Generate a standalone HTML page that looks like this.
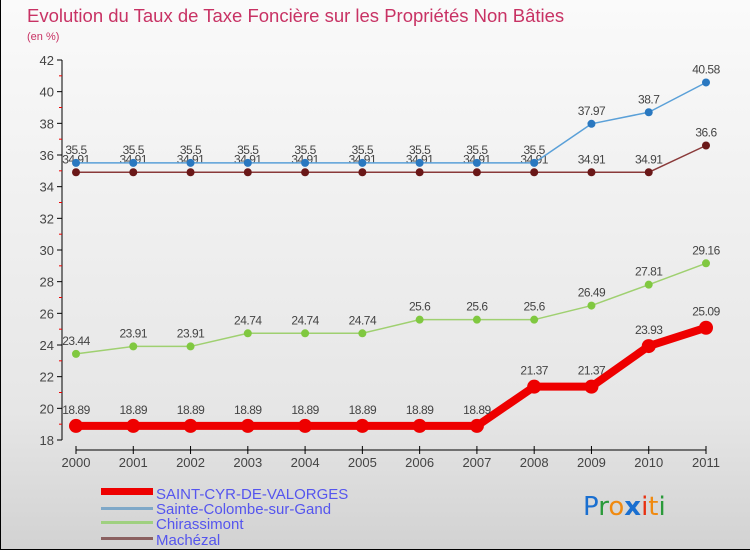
<!DOCTYPE html>
<html><head><meta charset="utf-8"><style>
html,body{margin:0;padding:0;}
body{width:750px;height:550px;overflow:hidden;font-family:"Liberation Sans",sans-serif;}
#wrap{position:relative;width:749px;height:549px;border-left:1px solid #000;border-bottom:1px solid #000;background:linear-gradient(#fafafa,#e6e6e6 75%,#d2d2d2);}
</style></head><body>
<div id="wrap">
<svg id="chart" width="750" height="550" xmlns="http://www.w3.org/2000/svg">
<text x="26" y="22" font-size="18.5" fill="#c83264">Evolution du Taux de Taxe Foncière sur les Propriétés Non Bâties</text>
<text x="26" y="40" font-size="11" fill="#c83264">(en %)</text>
<g id="axes"></g><g id="series"></g>
<g>
<rect x="100" y="488" width="52" height="7" fill="#ee0000"/>
<text x="155" y="499" font-size="15" fill="#5555ee">SAINT-CYR-DE-VALORGES</text>
<rect x="100" y="507" width="52" height="3" fill="#7fa8c8"/>
<text x="155" y="514" font-size="15" fill="#5555ee">Sainte-Colombe-sur-Gand</text>
<rect x="100" y="521" width="52" height="3" fill="#9fd080"/>
<text x="155" y="529" font-size="15" fill="#5555ee">Chirassimont</text>
<rect x="100" y="537" width="52" height="3" fill="#8a6060"/>
<text x="155" y="545" font-size="15" fill="#5555ee">Machézal</text>
</g>
<g font-size="26" font-family="'DejaVu Sans',sans-serif">
<text x="582" y="515"><tspan fill="#1a6fd0">P</tspan><tspan fill="#2a9a3a">r</tspan><tspan fill="#f08a10">o</tspan><tspan fill="#1a6fd0" font-weight="bold">x</tspan><tspan fill="#e83010">i</tspan><tspan fill="#f08a10">t</tspan><tspan fill="#2a9a3a">i</tspan></text>
</g>
</svg>
</div>
<script>
const years=[2000,2001,2002,2003,2004,2005,2006,2007,2008,2009,2010,2011];
const yTicks=[18,20,22,24,26,28,30,32,34,36,38,40,42];
const saintCyr=[18.89,18.89,18.89,18.89,18.89,18.89,18.89,18.89,21.37,21.37,23.93,25.09];
const sainteColombe=[35.5,35.5,35.5,35.5,35.5,35.5,35.5,35.5,35.5,37.97,38.7,40.58];
const chirassimont=[23.44,23.91,23.91,24.74,24.74,24.74,25.6,25.6,25.6,26.49,27.81,29.16];
const machezal=[34.91,34.91,34.91,34.91,34.91,34.91,34.91,34.91,34.91,34.91,34.91,36.6];
const NS="http://www.w3.org/2000/svg";
const xS=i=>75+i*(630/11);
const yS=v=>440-(v-18)*(380/24);
function mk(t,a,p){const e=document.createElementNS(NS,t);for(const k in a)e.setAttribute(k,a[k]);p.appendChild(e);return e;}
const ax=document.getElementById('axes');
let l=mk('line',{x1:61,y1:60,x2:61,y2:440,stroke:'#000'},ax);


const yMax=yTicks[yTicks.length-1];
yTicks.forEach(v=>{
  mk('line',{x1:56,x2:61,y1:yS(v),y2:yS(v),stroke:'#000'},ax);
  if(v<yMax) mk('line',{x1:58,x2:61,y1:yS(v+1),y2:yS(v+1),stroke:'#e00'},ax);
  const t=mk('text',{x:53,y:yS(v)+5,'font-size':13,'text-anchor':'end',fill:'#444'},ax);
  t.textContent=v;
  
  
});
l=mk('line',{x1:75,y1:450,x2:705,y2:450,stroke:'#000'},ax);


years.forEach((y,i)=>{
  mk('line',{x1:xS(i),x2:xS(i),y1:446,y2:454,stroke:'#000'},ax);
  const t=mk('text',{x:xS(i),y:467,'font-size':13,'text-anchor':'middle',fill:'#444'},ax);
  t.textContent=y;
  
  
});
const sg=document.getElementById('series');
function draw(vals,name,color,w,r,ptColor){
  const g=mk('g',{},sg);
  
  
  mk('polyline',{points:vals.map((v,i)=>xS(i)+','+yS(v)).join(' '),fill:'none',stroke:color,'stroke-width':w,'stroke-linejoin':'round'},g);
  vals.forEach((v,i)=>{
    const c=mk('circle',{cx:xS(i),cy:yS(v),r:r,fill:ptColor},g);
    
    
    const t=mk('text',{x:xS(i),y:yS(v)-(r+5),'font-size':12,'text-anchor':'middle',fill:'#444','letter-spacing':'-0.5'},g);
    t.textContent=v;
    
    
  });
}
draw(machezal,'machezal','#8a3a3a',1.5,4,'#6a1818');
draw(sainteColombe,'sainte-colombe','#5aa0d8',1.5,4,'#2a78c0');
draw(chirassimont,'chirassimont','#9fd070',1.5,4,'#80c840');
draw(saintCyr,'saint-cyr','#ee0000',8,7,'#ee0000');
</script>
</body></html>
